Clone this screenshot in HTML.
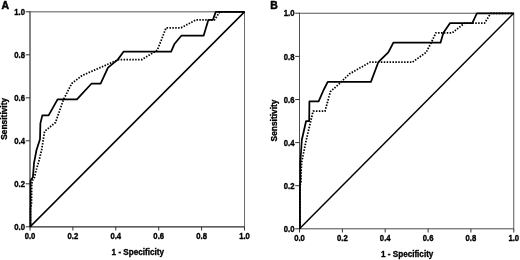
<!DOCTYPE html>
<html><head><meta charset="utf-8"><title>ROC curves</title>
<style>
html,body{margin:0;padding:0;background:#fff;}
body{width:520px;height:260px;overflow:hidden;}
svg{display:block;font-family:"Liberation Sans",sans-serif;font-weight:bold;fill:#000;}
.tk{font-size:8.3px;stroke:#000;stroke-width:0.35px;}
.ti{font-size:8.6px;stroke:#000;stroke-width:0.33px;}
.lt{font-size:10.4px;stroke:#000;stroke-width:0.5px;}
.c{fill:none;stroke:#000;stroke-width:1.75;stroke-linejoin:round;}
.d{fill:none;stroke:#000;stroke-width:1.75;stroke-dasharray:1.5 1.4;stroke-linejoin:round;}
</style></head><body>
<svg width="520" height="260" viewBox="0 0 520 260">
<rect width="520" height="260" fill="#fff"/>
<line x1="30.0" y1="11.35" x2="30.0" y2="227.35" stroke="#3c3c3c" stroke-width="1.25"/>
<line x1="244.5" y1="11.35" x2="244.5" y2="227.35" stroke="#6c6c6c" stroke-width="1"/>
<line x1="30.0" y1="11.85" x2="244.5" y2="11.85" stroke="#555" stroke-width="1"/>
<line x1="30.0" y1="226.85" x2="244.5" y2="226.85" stroke="#2a2a2a" stroke-width="1.1"/>
<line x1="30.0" y1="226.85" x2="30.0" y2="230.5" stroke="#333" stroke-width="1"/>
<line x1="25.7" y1="226.8" x2="30.0" y2="226.8" stroke="#333" stroke-width="1"/>
<text class="tk" transform="translate(30.0,238.9) scale(0.93,1)" text-anchor="middle">0.0</text>
<text class="tk" transform="translate(25.0,229.9) scale(0.93,1)" text-anchor="end">0.0</text>
<line x1="72.9" y1="226.85" x2="72.9" y2="230.5" stroke="#333" stroke-width="1"/>
<line x1="25.7" y1="183.8" x2="30.0" y2="183.8" stroke="#333" stroke-width="1"/>
<text class="tk" transform="translate(72.9,238.9) scale(0.93,1)" text-anchor="middle">0.2</text>
<text class="tk" transform="translate(25.0,186.9) scale(0.93,1)" text-anchor="end">0.2</text>
<line x1="115.8" y1="226.85" x2="115.8" y2="230.5" stroke="#333" stroke-width="1"/>
<line x1="25.7" y1="140.8" x2="30.0" y2="140.8" stroke="#333" stroke-width="1"/>
<text class="tk" transform="translate(115.8,238.9) scale(0.93,1)" text-anchor="middle">0.4</text>
<text class="tk" transform="translate(25.0,143.9) scale(0.93,1)" text-anchor="end">0.4</text>
<line x1="158.7" y1="226.85" x2="158.7" y2="230.5" stroke="#333" stroke-width="1"/>
<line x1="25.7" y1="97.8" x2="30.0" y2="97.8" stroke="#333" stroke-width="1"/>
<text class="tk" transform="translate(158.7,238.9) scale(0.93,1)" text-anchor="middle">0.6</text>
<text class="tk" transform="translate(25.0,100.9) scale(0.93,1)" text-anchor="end">0.6</text>
<line x1="201.6" y1="226.85" x2="201.6" y2="230.5" stroke="#333" stroke-width="1"/>
<line x1="25.7" y1="54.8" x2="30.0" y2="54.8" stroke="#333" stroke-width="1"/>
<text class="tk" transform="translate(201.6,238.9) scale(0.93,1)" text-anchor="middle">0.8</text>
<text class="tk" transform="translate(25.0,57.9) scale(0.93,1)" text-anchor="end">0.8</text>
<line x1="244.5" y1="226.85" x2="244.5" y2="230.5" stroke="#333" stroke-width="1"/>
<line x1="25.7" y1="11.8" x2="30.0" y2="11.8" stroke="#333" stroke-width="1"/>
<text class="tk" transform="translate(244.5,238.9) scale(0.93,1)" text-anchor="middle">1.0</text>
<text class="tk" transform="translate(25.0,14.9) scale(0.93,1)" text-anchor="end">1.0</text>
<line x1="30.0" y1="226.85" x2="244.5" y2="11.85" stroke="#000" stroke-width="1.5"/>
<text class="ti" transform="translate(137.8,254.9) scale(0.945,1)" text-anchor="middle">1 - Specificity</text>
<text class="ti" transform="translate(7.1,118.8) rotate(-90) scale(0.975,1)" text-anchor="middle">Sensitivity</text>
<text class="lt" x="1.5" y="9">A</text>
<polyline class="d" points="30.5,226.85 30.5,209.00 31.5,204.00 31.7,184.00 32.5,180.50 34.6,177.00 35.9,171.11 38.8,161.50 41.6,150.00 44.6,131.29 52.7,124.80 55.5,122.50 57.3,117.30 63.6,99.44 71.7,83.52 82.0,75.55 118.4,59.63 141.9,59.63 157.3,50.20 166.1,27.78 181.1,27.78 196.1,19.81 214.6,19.81 219.8,11.85 244.5,11.85"/>
<polyline class="c" points="30.5,226.85 30.5,180.40 32.9,177.20 34.0,163.15 36.5,150.00 40.0,139.26 40.4,123.33 42.3,115.37 48.6,115.37 57.6,99.44 76.9,99.44 91.6,83.52 100.6,83.52 108.0,67.59 117.8,59.63 123.5,51.66 171.1,51.66 174.6,43.70 181.3,35.74 203.6,35.74 208.4,19.81 212.9,19.81 215.8,11.85 244.5,11.85"/>
<line x1="299.5" y1="12.75" x2="299.5" y2="229.30" stroke="#505050" stroke-width="1"/>
<line x1="513.75" y1="12.75" x2="513.75" y2="229.30" stroke="#5a5a5a" stroke-width="1"/>
<line x1="299.5" y1="13.25" x2="513.75" y2="13.25" stroke="#555" stroke-width="1"/>
<line x1="299.5" y1="228.8" x2="513.75" y2="228.8" stroke="#4a4a4a" stroke-width="1"/>
<line x1="299.5" y1="228.8" x2="299.5" y2="232.5" stroke="#333" stroke-width="1"/>
<line x1="295.2" y1="228.8" x2="299.5" y2="228.8" stroke="#333" stroke-width="1"/>
<text class="tk" transform="translate(299.5,240.9) scale(0.93,1)" text-anchor="middle">0.0</text>
<text class="tk" transform="translate(294.5,231.9) scale(0.93,1)" text-anchor="end">0.0</text>
<line x1="342.4" y1="228.8" x2="342.4" y2="232.5" stroke="#333" stroke-width="1"/>
<line x1="295.2" y1="185.7" x2="299.5" y2="185.7" stroke="#333" stroke-width="1"/>
<text class="tk" transform="translate(342.4,240.9) scale(0.93,1)" text-anchor="middle">0.2</text>
<text class="tk" transform="translate(294.5,188.8) scale(0.93,1)" text-anchor="end">0.2</text>
<line x1="385.2" y1="228.8" x2="385.2" y2="232.5" stroke="#333" stroke-width="1"/>
<line x1="295.2" y1="142.6" x2="299.5" y2="142.6" stroke="#333" stroke-width="1"/>
<text class="tk" transform="translate(385.2,240.9) scale(0.93,1)" text-anchor="middle">0.4</text>
<text class="tk" transform="translate(294.5,145.7) scale(0.93,1)" text-anchor="end">0.4</text>
<line x1="428.1" y1="228.8" x2="428.1" y2="232.5" stroke="#333" stroke-width="1"/>
<line x1="295.2" y1="99.5" x2="299.5" y2="99.5" stroke="#333" stroke-width="1"/>
<text class="tk" transform="translate(428.1,240.9) scale(0.93,1)" text-anchor="middle">0.6</text>
<text class="tk" transform="translate(294.5,102.6) scale(0.93,1)" text-anchor="end">0.6</text>
<line x1="470.9" y1="228.8" x2="470.9" y2="232.5" stroke="#333" stroke-width="1"/>
<line x1="295.2" y1="56.4" x2="299.5" y2="56.4" stroke="#333" stroke-width="1"/>
<text class="tk" transform="translate(470.9,240.9) scale(0.93,1)" text-anchor="middle">0.8</text>
<text class="tk" transform="translate(294.5,59.5) scale(0.93,1)" text-anchor="end">0.8</text>
<line x1="513.8" y1="228.8" x2="513.8" y2="232.5" stroke="#333" stroke-width="1"/>
<line x1="295.2" y1="13.2" x2="299.5" y2="13.2" stroke="#333" stroke-width="1"/>
<text class="tk" transform="translate(513.8,240.9) scale(0.93,1)" text-anchor="middle">1.0</text>
<text class="tk" transform="translate(294.5,16.4) scale(0.93,1)" text-anchor="end">1.0</text>
<line x1="299.5" y1="228.8" x2="513.75" y2="13.25" stroke="#000" stroke-width="1.5"/>
<text class="ti" transform="translate(407.2,256.9) scale(0.945,1)" text-anchor="middle">1 - Specificity</text>
<text class="ti" transform="translate(276.6,120.5) rotate(-90) scale(0.975,1)" text-anchor="middle">Sensitivity</text>
<text class="lt" x="270.2" y="8.8">B</text>
<polyline class="d" points="300.0,228.80 300.0,186.00 300.9,182.00 301.2,170.01 301.7,162.00 306.1,140.62 313.1,111.23 325.0,111.23 330.4,91.63 339.0,84.00 349.6,73.80 370.0,62.24 412.3,62.24 426.1,52.44 431.9,41.30 435.8,32.85 452.3,32.85 464.6,23.05 484.6,23.05 490.8,13.25 513.7,13.25"/>
<polyline class="c" points="300.0,228.80 300.0,184.00 300.3,181.00 300.3,163.00 301.8,140.00 306.1,121.03 309.2,121.03 309.4,101.43 318.6,101.43 323.6,90.00 327.7,81.83 370.9,81.83 378.3,62.24 388.3,52.44 393.4,42.64 440.5,42.64 443.4,32.85 450.1,23.05 472.3,23.05 476.9,13.25 513.7,13.25"/>
</svg>
</body></html>
